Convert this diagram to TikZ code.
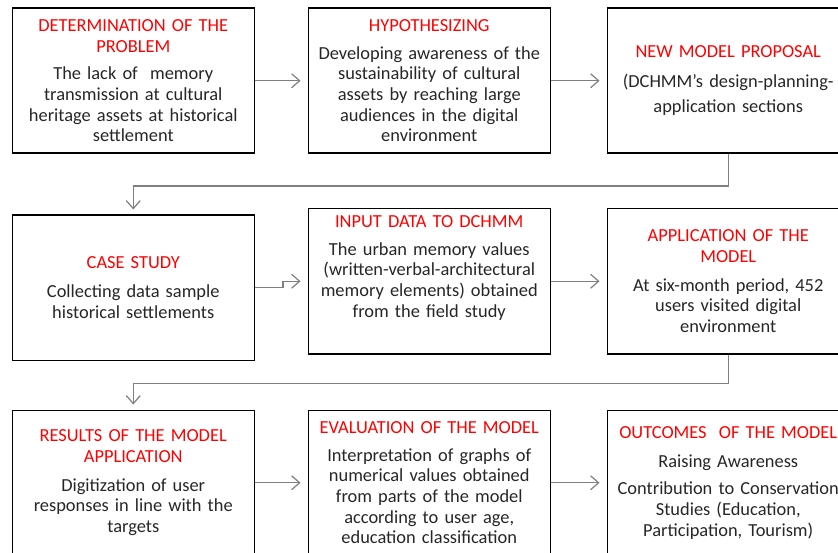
\documentclass[tikz,border=0pt]{standalone}
\usepackage{fontspec}
\setmainfont{Carlito}
\usetikzlibrary{arrows.meta,shapes,positioning,calc}
\definecolor{bodytext}{HTML}{262626}
\definecolor{linkgray}{HTML}{7F7F7F}
\tikzset{
  basic/.style   = {draw, rectangle, font=\fontsize{18.4}{20.7}\selectfont},
  stepbox/.style = {basic, line width=1.5pt, align=center, text width=240pt,
  minimum width=242pt, minimum height=145pt, inner sep=0pt, text=bodytext},
  link/.style    = {draw=linkgray, line width=1.2pt,
  -{Straight Barb[length=8pt,width=14pt]}, shorten >=7pt}
}

\begin{document}
\begin{tikzpicture}[x=1pt, y=1pt]

    \clip (0,0) rectangle (838,-553);

% first row
    \node[stepbox, anchor=north west] (problem) at (11.5,-7.5) {\color{red}DETERMINATION OF THE\\PROBLEM\\[7pt]
      \color{bodytext}The lack of\ \ memory\\transmission at cultural\\heritage assets at historical\\settlement};
    \node[stepbox, right=52.5pt of problem] (hypo) {\color{red}HYPOTHESIZING\\[7pt]
      \color{bodytext}Developing awareness of the\\sustainability of cultural\\assets by reaching large\\audiences in the digital\\environment};
    \node[stepbox, right=55.5pt of hypo] (proposal) {\color{red}NEW MODEL PROPOSAL\\[9pt]
      \color{bodytext}(DCHMM's design-planning-\\[5pt]application sections};

% second row
    \node[stepbox, below=60.5pt of problem] (casestudy) {\color{red}CASE STUDY\\[8pt]
      \color{bodytext}Collecting data sample\\historical settlements};
    \node[stepbox, right=52.5pt of casestudy, yshift=6.5pt] (inputdata) {\color{red}INPUT DATA TO DCHMM\\[7pt]
      \color{bodytext}The urban memory values\\(written-verbal-architectural\\memory elements) obtained\\from the field study\\[9pt]\mbox{}};
    \node[stepbox, right=55.5pt of inputdata] (application) {\color{red}APPLICATION OF THE\\MODEL\\[8pt]
      \color{bodytext}At six-month period, 452\\users visited digital\\environment};

% third row
    \node[stepbox, below=48.5pt of casestudy] (results) {\color{red}RESULTS OF THE MODEL\\APPLICATION\\[8pt]
      \color{bodytext}Digitization of user\\responses in line with the\\targets};
    \node[stepbox, right=52.5pt of results] (evaluation) {\color{red}EVALUATION OF THE MODEL\\[7pt]
      \color{bodytext}Interpretation of graphs of\\numerical values obtained\\from parts of the model\\according to user age,\\education classification};
    \node[stepbox, right=55.5pt of evaluation] (outcomes) {\color{red}OUTCOMES\ \ OF THE MODEL\\[8pt]
      \color{bodytext}Raising Awareness\\[7pt]Contribution to Conservation\\Studies (Education,\\Participation, Tourism)};

% connectors inside each row
    \foreach \from/\to in {problem/hypo, hypo/proposal, inputdata/application,
      results/evaluation, evaluation/outcomes}
    \draw[link] (\from.east) -- (\to.west);

    \draw[link] (casestudy.east) -- ++(28,0) |- (inputdata.west);

% connectors from one row to the next
    \draw[link, shorten >=5pt] (proposal.south) -- ++(0,-32) -| (casestudy.north);
    \draw[link, shorten >=5pt] (application.south) -- ++(0,-29) -| (results.north);

\end{tikzpicture}
\end{document}
